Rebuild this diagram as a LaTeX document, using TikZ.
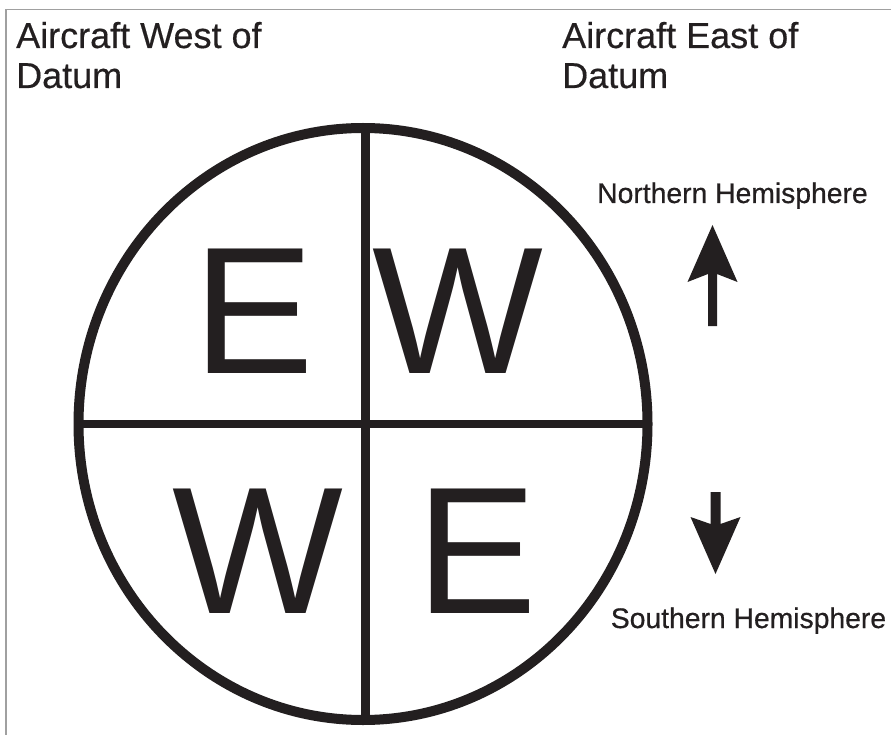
\documentclass[tikz,border=0pt]{standalone}
\usepackage{fontspec}
\setmainfont{Liberation Sans}
\newfontfamily\headfont[FakeBold=0.4]{Liberation Sans}
\newfontfamily\hemifont[FakeBold=0.6]{Liberation Sans}
\definecolor{ink}{HTML}{231F20}
\definecolor{frame}{HTML}{A0A0A0}
\begin{document}
\begin{tikzpicture}[x=1pt,y=-1pt,
  heading/.style={anchor=base west, inner sep=0pt, align=left, font=\headfont\fontsize{36}{40}\selectfont, text=ink},
  hemi/.style={anchor=base, inner sep=0pt, font=\hemifont\fontsize{28.3}{32}\selectfont, text=ink},
  bigletter/.style={anchor=base, inner sep=0pt, font=\fontsize{181}{181}\selectfont, text=ink},
  arrowshape/.style={fill=ink, draw=none}]
\useasboundingbox (0,0) rectangle (891,735);
\fill[white] (0,0) rectangle (891,735);
% frame
\draw[frame, line width=1.5pt] (6,735) -- (6,9.5) -- (891,9.5);
% circle and cross
\coordinate (ctr) at (363,424);
\draw[ink, line width=10pt] (ctr) ellipse [x radius=284.5, y radius=296];
\coordinate (vtop) at (365,128);
\coordinate (vbot) at (365,719.5);
\coordinate (hleft) at (78,424);
\coordinate (hright) at (647,424);
\draw[ink, line width=9pt] (vtop) -- (vbot);
\draw[ink, line width=8.5pt] (hleft) -- (hright);
% letters
\node[bigletter] (e1) at (254,373) {E};
\node[bigletter] (w1) at (457.5,373) {W};
\node[bigletter] (w2) at (257.5,613) {W};
\node[bigletter] (e2) at (476.5,613) {E};
% headings (base = baseline of last line)
\node[heading] (west) at (16,88) {Aircraft West of\\Datum};
\node[heading] (east) at (562,88) {Aircraft East of\\Datum};
% hemispheres
\node[hemi] (north) at (732.5,203) {Northern Hemisphere};
\node[hemi] (south) at (748.5,628) {Southern Hemisphere};
% up arrow
\fill[arrowshape] (712.5,225) -- (737.5,282) -- (717,274) -- (717,326) -- (708,326) -- (708,274) -- (687.5,282) -- cycle;
% down arrow
\fill[arrowshape] (715.5,574) -- (740.5,517) -- (720.5,524) -- (720.5,492) -- (710.5,492) -- (710.5,524) -- (690.5,517) -- cycle;
\end{tikzpicture}
\end{document}
